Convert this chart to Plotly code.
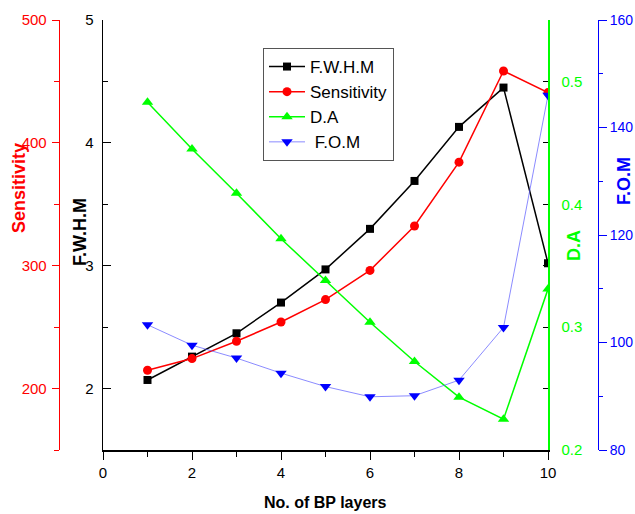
import plotly.graph_objects as go

layers = [1, 2, 3, 4, 5, 6, 7, 8, 9, 10]
fwhm = [2.07, 2.26, 2.45, 2.70, 2.97, 3.30, 3.69, 4.13, 4.45, 3.02]
sensitivity = [214.9, 224.4, 238.5, 254.2, 272.4, 296.2, 332.3, 384.3, 458.5, 440.9]
da = [0.483, 0.445, 0.409, 0.372, 0.338, 0.304, 0.272, 0.243, 0.225, 0.331]
fom = [103.3, 99.5, 97.1, 94.3, 91.8, 89.9, 90.1, 93.0, 102.8, 146.0]

W, H = 635, 514
top_px, bot_px = 20, 450
x0, x1 = 103, 548
MT = top_px
MB = H - bot_px
PH = H - MT - MB

def px(x):
    return x / W

def py(y):
    return 1 - (y - MT) / PH

FONT = "Liberation Sans, Arial, sans-serif"
RED, GREEN, BLUE = "#FF0000", "#00FF00", "#0000FF"
TFS = 15  # tick font size

fig = go.Figure()
fig.add_trace(go.Scatter(x=layers, y=fwhm, name="F.W.H.M", mode="lines+markers",
                         line=dict(color="black", width=1.5),
                         marker=dict(symbol="square", size=8, color="black"),
                         xaxis="x", yaxis="y"))
fig.add_trace(go.Scatter(x=layers, y=sensitivity, name="Sensitivity", mode="lines+markers",
                         line=dict(color=RED, width=1.5),
                         marker=dict(symbol="circle", size=9, color=RED),
                         xaxis="x", yaxis="y2"))
fig.add_trace(go.Scatter(x=layers, y=da, name="D.A", mode="lines+markers",
                         line=dict(color=GREEN, width=1.5),
                         marker=dict(symbol="triangle-up", size=10, color=GREEN),
                         xaxis="x", yaxis="y3"))
fig.add_trace(go.Scatter(x=layers, y=fom, name=" F.O.M", mode="lines+markers",
                         line=dict(color="rgba(90,90,255,0.7)", width=1),
                         marker=dict(symbol="triangle-down", size=10, color=BLUE),
                         xaxis="x", yaxis="y4"))

dom = [px(x0), px(x1)]
tickfont = dict(family=FONT, size=TFS, color="black")

fig.update_layout(
    width=W, height=H,
    margin=dict(l=0, r=0, t=MT, b=MB),
    paper_bgcolor="white", plot_bgcolor="white",
    font=dict(family=FONT, size=TFS, color="black"),
    showlegend=True,
    legend=dict(x=px(263), y=py(48), xanchor="left", yanchor="top",
                bgcolor="white", bordercolor="#555555", borderwidth=1,
                font=dict(family=FONT, size=17, color="black"),
                tracegroupgap=0, itemwidth=36),
    xaxis=dict(domain=dom, range=[0, 10], dtick=2, tick0=0,
               ticks="outside", ticklen=8, tickwidth=1, tickcolor="black",
               minor=dict(dtick=1, ticks="outside", ticklen=5, tickcolor="black"),
               showline=True, linecolor="black", linewidth=1.5,
               showgrid=False, zeroline=False, tickfont=tickfont, automargin=False),
    xaxis2=dict(domain=dom, range=[0, 10], dtick=1, overlaying="x", side="top",
                anchor="y", ticks="inside", ticklen=5, tickcolor="black",
                showticklabels=False, showline=True, linecolor="black", linewidth=1.5,
                showgrid=False, zeroline=False),
    yaxis=dict(range=[1.5, 5], dtick=1, tick0=0, anchor="x", side="left",
               ticks="inside", ticklen=8, tickcolor="black",
               minor=dict(dtick=0.5, ticks="inside", ticklen=5, tickcolor="black"),
               showline=True, linecolor="black", linewidth=1.5,
               showgrid=False, zeroline=False, tickfont=tickfont,
               ticklabelstandoff=5, automargin=False),
    yaxis2=dict(range=[150, 500], dtick=100, tick0=0, overlaying="y", anchor="free",
                position=px(58.7), side="left",
                ticks="outside", ticklen=7, tickcolor=RED,
                minor=dict(dtick=50, ticks="outside", ticklen=5, tickcolor=RED),
                showline=True, linecolor=RED, linewidth=1.5,
                showgrid=False, zeroline=False, ticklabelstandoff=2,
                tickfont=dict(family=FONT, size=TFS, color=RED), automargin=False),
    yaxis3=dict(range=[0.2, 0.55], dtick=0.1, tick0=0, overlaying="y", anchor="x",
                side="right", ticks="inside", ticklen=5, tickcolor="black",
                minor=dict(dtick=0.05, ticks="inside", ticklen=5, tickcolor="black"),
                showline=True, linecolor=GREEN, linewidth=1.5,
                showgrid=False, zeroline=False, ticklabelstandoff=9,
                tickfont=dict(family=FONT, size=TFS, color=GREEN), automargin=False),
    yaxis4=dict(range=[80, 160], dtick=20, tick0=0, overlaying="y", anchor="free",
                position=px(597.5), side="right",
                ticks="outside", ticklen=8, tickcolor=BLUE,
                minor=dict(dtick=10, ticks="outside", ticklen=4, tickcolor=BLUE),
                showline=True, linecolor=BLUE, linewidth=1.5,
                showgrid=False, zeroline=False,
                tickfont=dict(family=FONT, size=14, color=BLUE), automargin=False),
)

ann = [
    ("Sensitivity", px(19), py(188), -90, RED, 18),
    ("F.W.H.M", px(80), py(232), -90, "black", 18),
    ("D.A", px(574), py(246), -90, GREEN, 18),
    ("F.O.M", px(624), py(181), -90, BLUE, 18),
    ("No. of BP layers", px(325), py(502), 0, "black", 16),
]
for text, x, y, ang, col, size in ann:
    fig.add_annotation(text="<b>%s</b>" % text, x=x, y=y, xref="paper", yref="paper",
                       xanchor="center", yanchor="middle", textangle=ang,
                       showarrow=False, font=dict(family=FONT, size=size, color=col))

page_css = ("document.documentElement.style.margin='0';"
            "document.documentElement.style.overflow='hidden';"
            "document.body.style.margin='0';"
            "document.body.style.overflow='hidden';")
fig.write_html("out.html", post_script=page_css,
               config={"displayModeBar": False, "staticPlot": True})
